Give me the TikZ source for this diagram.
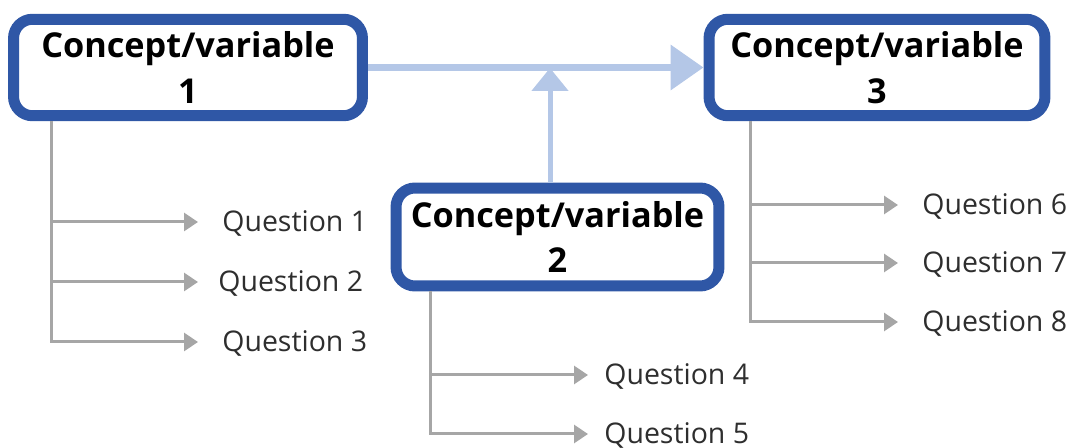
\documentclass[tikz,border=0pt]{standalone}
\usepackage{fontspec}
\setmainfont{Open Sans}
\usetikzlibrary{arrows.meta}
\definecolor{boxblue}{HTML}{2F57A6}
\definecolor{linkblue}{HTML}{B4C7E7}
\definecolor{stemgray}{HTML}{A6A6A6}
\begin{document}
\begin{tikzpicture}[x=0.02cm,y=-0.02cm,
    concept/.style={rectangle,draw=boxblue,fill=white,line width=0.22cm,rounded corners=0.38cm,
        inner sep=0pt,outer sep=0.11cm,align=center,font=\fontsize{19.5pt}{26pt}\selectfont\bfseries},
    question/.style={anchor=west,inner sep=0pt,text height=1.12em,text depth=0pt,
        text=black!82,font=\fontsize{16.2pt}{19pt}\selectfont},
    stem/.style={draw=stemgray,line width=0.06cm},
    leaf/.style={stem,-{Triangle[length=0.28cm,width=0.36cm]}}]
        \useasboundingbox (0,0) rectangle (1071,448);

        \draw (188,67.5) node (c1) [concept,minimum width=6.98cm,minimum height=1.93cm] {Concept/variable\\1};
        \draw (877,67.5) node (c3) [concept,minimum width=6.72cm,minimum height=1.93cm] {Concept/variable\\3};
        \draw (557.5,237) node (c2) [concept,minimum width=6.46cm,minimum height=1.96cm] {Concept/variable\\2};
        \coordinate (join) at (550,68);

        \draw [linkblue,line width=0.14cm,-{Triangle[length=0.66cm,width=0.88cm]}] (c1.east) to (c3.west);
        \draw [linkblue,line width=0.1cm,-{Triangle[length=0.46cm,width=0.72cm]}] (c2.north -| join) to (join);

        \draw (222,222) node (q1) [question] {Question 1};
        \draw (218,282) node (q2) [question] {Question 2};
        \draw (222,342) node (q3) [question] {Question 3};
        \draw (604,375) node (q4) [question] {Question 4};
        \draw (604,434) node (q5) [question] {Question 5};
        \draw (922,205) node (q6) [question] {Question 6};
        \draw (922,263) node (q7) [question] {Question 7};
        \draw (922,322) node (q8) [question] {Question 8};

        \coordinate (s1) at (51,0);
        \coordinate (s2) at (430,0);
        \coordinate (s3) at (750,0);

        \draw [leaf] (c1.south -| s1) |- ([xshift=-0.48cm]q3.west);
        \draw [leaf] (s1 |- q1) to ([xshift=-0.48cm]q1.west);
        \draw [leaf] (s1 |- q2) to ([xshift=-0.4cm]q2.west);

        \draw [leaf] (c2.south -| s2) |- ([xshift=-0.32cm]q5.west);
        \draw [leaf] (s2 |- q4) to ([xshift=-0.32cm]q4.west);

        \draw [leaf] (c3.south -| s3) |- ([xshift=-0.48cm]q8.west);
        \draw [leaf] (s3 |- q6) to ([xshift=-0.48cm]q6.west);
        \draw [leaf] (s3 |- q7) to ([xshift=-0.48cm]q7.west);
    \end{tikzpicture}
\end{document}
